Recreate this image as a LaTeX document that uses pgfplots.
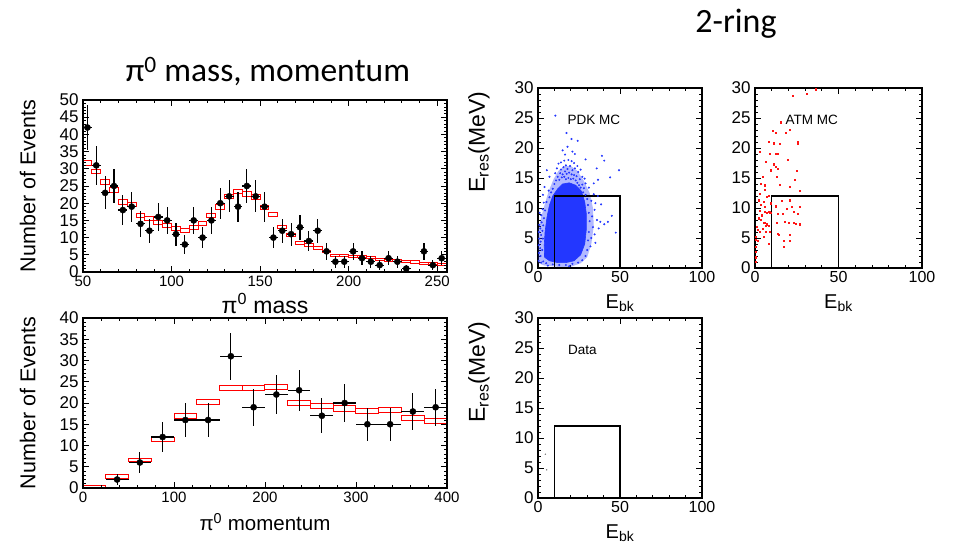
\documentclass[border=0pt]{standalone}
\usepackage{pgfplots}
\pgfplotsset{compat=1.18}
\usepackage{pgfplotstable}
\usepackage{fontspec}
\setmainfont{Liberation Sans}
\newfontfamily\calibri{Carlito}

\definecolor{pdkblue}{RGB}{35,55,255}
\definecolor{atmred}{RGB}{255,20,20}

% pi0 invariant mass: data (bin centre, counts, errors)
\pgfplotstableread{
x y ex ey
52.5 42 2.5 6.48
57.5 31 2.5 5.57
62.5 23 2.5 4.80
67.5 25 2.5 5.00
72.5 18 2.5 4.24
77.5 19 2.5 4.36
82.5 14 2.5 3.74
87.5 12 2.5 3.46
92.5 16 2.5 4.00
97.5 15 2.5 3.87
102.5 11 2.5 3.32
107.5 8 2.5 2.83
112.5 15 2.5 3.87
117.5 10 2.5 3.16
122.5 15 2.5 3.87
127.5 20 2.5 4.47
132.5 22 2.5 4.69
137.5 19 2.5 4.36
142.5 25 2.5 5.00
147.5 22 2.5 4.69
152.5 19 2.5 4.36
157.5 10 2.5 3.16
162.5 12 2.5 3.46
167.5 11 2.5 3.32
172.5 13 2.5 3.61
177.5 9 2.5 3.00
182.5 12 2.5 3.46
187.5 6 2.5 2.45
192.5 3 2.5 1.73
197.5 3 2.5 1.73
202.5 6 2.5 2.45
207.5 4 2.5 2.00
212.5 3 2.5 1.73
217.5 2 2.5 1.41
222.5 4 2.5 2.00
227.5 3 2.5 1.73
232.5 1 2.5 1.00
242.5 6 2.5 2.45
247.5 2 2.5 1.41
252.5 4 2.5 2.00
}\massdata

% pi0 invariant mass: MC expectation (bin centre, value, half error)
\pgfplotstableread{
x mc h
52.5 31.6 0.7
57.5 29.2 0.7
62.5 26.1 0.7
67.5 23.8 0.7
72.5 20.4 0.65
77.5 19.6 0.65
82.5 16.3 0.6
87.5 15.5 0.6
92.5 14.5 0.6
97.5 13.6 0.6
102.5 12.6 0.6
107.5 12.1 0.6
112.5 13.0 0.6
117.5 14.1 0.6
122.5 16.5 0.6
127.5 18.9 0.65
132.5 22.0 0.65
137.5 23.4 0.65
142.5 22.7 0.65
147.5 21.8 0.65
152.5 18.7 0.6
157.5 16.7 0.5
162.5 13.1 0.5
167.5 10.7 0.45
172.5 8.4 0.4
177.5 7.8 0.4
182.5 7.0 0.4
187.5 6.0 0.35
192.5 4.9 0.3
197.5 4.8 0.3
202.5 4.6 0.3
207.5 4.4 0.3
212.5 4.1 0.3
217.5 3.6 0.3
222.5 3.4 0.3
227.5 3.3 0.3
232.5 3.1 0.3
237.5 2.9 0.3
242.5 2.6 0.3
247.5 2.4 0.3
252.5 2.3 0.3
}\massmc

% pi0 momentum: data
\pgfplotstableread{
x y ex ey
37.5 2 12.5 1.41
62.5 6 12.5 2.45
87.5 12 12.5 3.46
112.5 16 12.5 4.00
137.5 16 12.5 4.00
162.5 31 12.5 5.57
187.5 19 12.5 4.36
212.5 22 12.5 4.69
237.5 23 12.5 4.80
262.5 17 12.5 4.12
287.5 20 12.5 4.47
312.5 15 12.5 3.87
337.5 15 12.5 3.87
362.5 18 12.5 4.24
387.5 19 12.5 4.36
}\momdata

% pi0 momentum: MC expectation
\pgfplotstableread{
x mc h
12.5 0.3 0.25
37.5 2.7 0.4
62.5 6.6 0.45
87.5 11.5 0.5
112.5 16.9 0.55
137.5 20.3 0.6
162.5 23.6 0.6
187.5 23.6 0.6
212.5 23.8 0.6
237.5 20.0 0.6
262.5 19.2 0.6
287.5 18.7 0.6
312.5 18.1 0.6
337.5 18.3 0.6
362.5 16.4 0.55
387.5 15.7 0.55
}\mommc

% proton decay MC: individual events around the dense core
\pgfplotstableread{
x y
9 13.2
10 14.0
11 14.6
12 15.2
13 14.7
13.5 15.8
14 16.4
14.5 15.1
15 15.6
15.5 16.8
16 15.2
16.5 16.1
17 14.8
17.5 15.7
18 16.5
18.5 15.0
19 15.9
19.5 17.0
20 14.8
20.5 15.6
21 16.3
21.5 14.9
22 15.5
22.5 16.6
23 14.6
23.5 15.3
24 14.2
24.5 16.0
25 13.8
25.5 14.8
26 13.4
27 13.9
27.5 12.6
28 13.3
29 12.2
30 11.5
8 12.6
7 11.8
6.5 12.9
10.5 15.8
11.5 16.6
12.5 17.4
14 17.6
16 17.9
17 17.1
18.5 18.0
20.5 17.8
22 17.5
24 17.0
26 16.4
27 15.2
29 14.1
31 13.4
16.5 18.9
21 19.4
10.6 25.4
17.4 22.5
20.4 21.5
24.2 21.2
18 20.2
15 19.6
22.5 19.0
29 18.1
35.8 16.6
39 18.7
40.4 17.9
49.4 16.3
44 15.1
36.6 14.7
34 14.1
28.4 14.9
5.4 16.3
7 15.2
4 13.5
3 12.2
0.4 1.2
0.6 2.5
0.4 3.8
0.7 4.9
0.5 6.0
0.8 7.2
1.5 2.0
1.3 3.3
1.6 4.4
1.9 5.5
1.4 6.6
2.2 7.6
2.0 8.8
2.8 9.8
3.5 10.9
2.6 3.0
3.0 4.9
2.7 6.2
3.2 7.1
3.6 8.3
4.3 9.6
5.2 11.0
1.0 9.2
2.0 0.9
3.2 1.1
30.5 10.5
31 9.2
31.5 7.8
31 6.0
30.5 4.6
30 3.0
29 2.0
27 1.3
32.5 11.2
33 8.6
33.5 6.8
32.5 5.0
32 3.6
34.5 9.7
35 10.8
36 8.0
37 6.6
34.5 5.6
35 4.2
38 7.7
40.4 7.3
42.6 7.7
45 8.7
47.4 5.9
34 12.3
36.5 12.0
38.5 10.6
5 0.8
9 0.6
13 0.5
17 0.5
21 0.7
24.5 0.9
6 0.4
19 0.3
}\pdkpts

% atmospheric neutrino MC events
\pgfplotstableread{
x y
22.4 28.7
31 29.1
36.4 29.8
15.6 24.3
10.6 22.9
12.6 22.6
20.6 23.0
18.4 22.5
8 21.1
11 20.8
15 20.7
25.4 21.0
25.4 20.7
2.6 19.4
9 19.1
12.6 19.0
13.4 19.1
19.6 18.0
6.2 17.7
11.4 17.3
12.6 16.9
13.4 16.6
9.4 16.3
13 15.2
25 16.2
4.6 15.2
3.6 14.1
6 13.8
15 13.9
20.6 13.5
24 14.7
27 12.9
2.6 12.4
6 13.0
7 11.9
8 12.0
2 11.3
5 11.0
3.4 10.5
6 10.2
9.4 10.8
16 11.2
20.6 11.3
22 10.2
26.6 10.2
12.6 10.3
2.6 9.6
6 9.4
7 9.2
8 9.4
8.6 9.3
9.2 9.2
4 8.8
13.4 9.0
16.6 9.0
19 9.9
23 9.4
25.4 9.1
2 8.3
3.4 8.0
5 7.5
5.6 7.6
6.2 7.1
7 7.3
8 7.0
13 7.5
17.6 7.7
20 7.5
23 7.5
24.2 7.4
26.6 7.3
1 6.9
1.6 6.4
3 6.0
4.6 6.6
6.6 6.0
9 6.0
13.4 5.7
14.2 5.5
0.6 5.2
0.6 4.7
1.4 4.5
5 5.2
8 4.1
17.4 4.6
20.6 4.6
21 5.5
0.4 3.5
0.4 2.7
0.4 1.8
0.6 1.0
17 3.5
}\atmpts

\pgfplotsset{
  frame/.style={
    scale only axis,
    axis line style={line width=1.1pt},
    every tick/.append style={black, line width=0.7pt},
    major tick length=6pt,
    minor tick length=3pt,
    tick align=inside,
    xticklabel style={font=\fontsize{15}{15}\selectfont},
    yticklabel style={font=\fontsize{17}{17}\selectfont, xshift=-1pt},
    /pgf/number format/assume math mode=true,
    label style={font=\fontsize{21.5}{22}\selectfont},
  },
  massbox/.style={scale only axis, at={(83pt,278pt)}, anchor=south west,
    width=364pt, height=172pt, xmin=50, xmax=255.5, ymin=0, ymax=50},
  mombox/.style={scale only axis, at={(83pt,62pt)}, anchor=south west,
    width=364pt, height=170pt, xmin=0, xmax=400, ymin=0, ymax=40},
  scat/.style={frame, anchor=south west, width=164pt, height=180pt,
    xmin=0, xmax=100, ymin=0, ymax=30,
    xtick={0,50,100}, minor x tick num=4,
    ytick={0,5,...,30}, minor y tick num=4,
    xticklabel style={font=\fontsize{16}{16}\selectfont},
    xlabel={E\textsubscript{bk}},
    xlabel style={at={(axis description cs:0.5,-0.195)}, anchor=center,
      font=\fontsize{20}{22}\selectfont},
  },
  eres/.style={ylabel={E\textsubscript{res}(MeV)},
    ylabel style={at={(axis description cs:-0.36,1.0)}, anchor=east,
      font=\fontsize{23}{24}\selectfont}},
  datapts/.style={black, only marks, mark=*, mark size=3.1pt,
    error bars/.cd, x dir=both, x explicit, y dir=both, y explicit,
    error mark=none, error bar style={line width=1.2pt, black}},
  cutbox/.style={black, line width=1.1pt, mark=none},
}

\begin{document}
\begin{tikzpicture}
\useasboundingbox (0pt,0pt) rectangle (954pt,550pt);

\node[font=\calibri\fontsize{33.5}{34}\selectfont, anchor=base] at (268pt,468pt) {π\textsuperscript{0} mass, momentum};
\node[font=\calibri\fontsize{34}{34}\selectfont, anchor=base] at (736pt,517pt) {2-ring};

% ---- pi0 mass ----
\begin{axis}[massbox, hide axis, ybar stacked, bar width=5]
\addplot[draw=none, fill=none] table[x=x, y expr=\thisrow{mc}-\thisrow{h}] {\massmc};
\addplot[draw=red, fill=none, line width=1pt] table[x=x, y expr=2*\thisrow{h}] {\massmc};
\end{axis}
\begin{axis}[frame, massbox,
  xtick={50,100,...,250}, minor x tick num=4,
  ytick={0,5,...,50}, minor y tick num=4,
  xlabel={π\textsuperscript{0} mass},
  xlabel style={at={(axis description cs:0.5,-0.185)}, anchor=center,
    font=\fontsize{23}{24}\selectfont},
  ylabel={Number of Events},
  ylabel style={at={(axis description cs:-0.152,0.5)}, anchor=center}]
\addplot[datapts] table[x=x, y=y, x error=ex, y error=ey] {\massdata};
\end{axis}

% ---- pi0 momentum ----
\begin{axis}[mombox, hide axis, ybar stacked, bar width=25]
\addplot[draw=none, fill=none] table[x=x, y expr=\thisrow{mc}-\thisrow{h}] {\mommc};
\addplot[draw=red, fill=none, line width=1pt] table[x=x, y expr=2*\thisrow{h}] {\mommc};
\end{axis}
\begin{axis}[frame, mombox,
  xtick={0,100,...,400}, minor x tick num=4,
  ytick={0,5,...,40}, minor y tick num=4,
  xlabel={π\textsuperscript{0} momentum},
  xlabel style={at={(axis description cs:0.5,-0.2)}, anchor=center,
    font=\fontsize{20.5}{22}\selectfont},
  ylabel={Number of Events},
  ylabel style={at={(axis description cs:-0.152,0.5)}, anchor=center}]
\addplot[datapts] table[x=x, y=y, x error=ex, y error=ey] {\momdata};
\end{axis}

% ---- proton decay MC ----
\begin{axis}[scat, eres, at={(538pt,282pt)}]
% outer, sparser part of the event cloud
\addplot[fill=pdkblue, fill opacity=0.35, draw=none] coordinates {
 (0.3,0.8) (4,0.4) (12,0.2) (20,0.2) (26,0.8) (30,1.8) (32.5,4) (34,7)
 (33.5,10) (31.5,12.5) (28,14.5) (24,16.2) (20,17) (16,17) (12.5,16.2)
 (9.5,14.8) (6.5,12.8) (4,10.5) (2,8.5) (0.3,6.5)} -- cycle;
% saturated core of the event cloud
\addplot[fill=pdkblue, draw=pdkblue, line width=0.6pt] coordinates {
 (4,1.8) (7,1.2) (12,0.9) (17,0.9) (22,1.2) (26,2.2) (28.5,4) (29.5,6.5)
 (29.5,9) (28.5,11) (26.5,12.8) (23,13.8) (19,14.2) (15,14) (12,13.2)
 (9,12) (7,10.5) (5.5,8.5) (4.3,6) (3.8,3.8)} -- cycle;
\addplot[pdkblue, only marks, mark=*, mark size=0.8pt] table {\pdkpts};
\addplot[cutbox] coordinates {(10,0) (10,12) (50,12) (50,0)};
\node[font=\fontsize{13.5}{14}\selectfont] at (axis cs:34,24.7) {PDK MC};
\end{axis}

% ---- atmospheric MC ----
\begin{axis}[scat, at={(755pt,282pt)}, width=167pt]
\addplot[atmred, only marks, mark=square*, mark size=0.6pt] table {\atmpts};
\addplot[cutbox] coordinates {(10,0) (10,12) (50,12) (50,0)};
\node[font=\fontsize{13.5}{14}\selectfont] at (axis cs:34,24.7) {ATM MC};
\end{axis}

% ---- data ----
\begin{axis}[scat, eres, at={(538pt,52pt)}]
\addplot[gray, only marks, mark=*, mark size=0.5pt] coordinates {(4.5,7.3) (5.3,4.7)};
\addplot[cutbox] coordinates {(10,0) (10,12) (50,12) (50,0)};
\node[font=\fontsize{13.5}{14}\selectfont] at (axis cs:27,24.7) {Data};
\end{axis}
\end{tikzpicture}
\end{document}
